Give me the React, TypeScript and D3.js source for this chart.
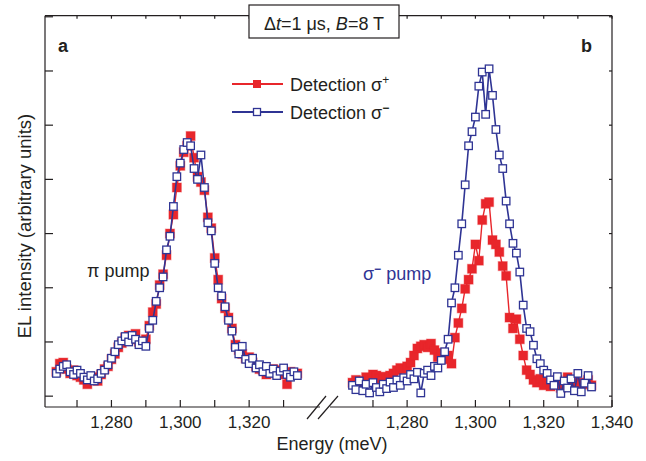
import React, { useEffect, useRef } from 'react';
import * as d3 from 'd3';

// photon energy of every sample (meV), shared by both panels
const energyMeV = [
  1264, 1265, 1266, 1267, 1268, 1269, 1270, 1271, 1272, 1273,
  1274, 1275, 1276, 1277, 1278, 1279, 1280, 1281, 1282, 1283,
  1284, 1285, 1286, 1287, 1288, 1289, 1290, 1291, 1292, 1293,
  1294, 1295, 1296, 1297, 1298, 1299, 1300, 1301, 1302, 1303,
  1304, 1305, 1306, 1307, 1308, 1309, 1310, 1311, 1312, 1313,
  1314, 1315, 1316, 1317, 1318, 1319, 1320, 1321, 1322, 1323,
  1324, 1325, 1326, 1327, 1328, 1329, 1330, 1331, 1332, 1333,
  1334,
];

// panel a: pi pump
const leftSigmaPlus = [
  0.45, 0.60, 0.62, 0.50, 0.42, 0.48, 0.38, 0.35, 0.30, 0.22,
  0.30, 0.35, 0.28, 0.40, 0.50, 0.55, 0.68, 0.78, 0.90, 0.98,
  1.08, 1.12, 1.05, 1.15, 1.00, 0.98, 1.05, 1.30, 1.55, 1.70,
  2.05, 2.25, 2.60, 3.00, 3.35, 3.85, 4.25, 4.50, 4.62, 4.80,
  4.40, 4.05, 3.95, 3.80, 3.30, 3.10, 2.55, 2.15, 1.80, 1.62,
  1.45, 1.25, 0.95, 0.85, 0.78, 0.70, 0.72, 0.62, 0.55, 0.50,
  0.48, 0.40, 0.45, 0.50, 0.42, 0.48, 0.40, 0.22, 0.45, 0.40,
  0.42,
];
const leftSigmaMinus = [
  0.42, 0.50, 0.55, 0.58, 0.45, 0.40, 0.48, 0.42, 0.35, 0.30,
  0.38, 0.28, 0.32, 0.42, 0.48, 0.58, 0.70, 0.82, 0.95, 1.02,
  1.10, 1.00, 1.12, 1.05, 0.95, 1.02, 0.92, 1.25, 1.40, 1.75,
  2.00, 2.20, 2.70, 2.95, 3.50, 4.05, 4.30, 4.55, 4.68, 4.62,
  4.20, 4.00, 4.45, 3.85, 3.20, 3.05, 2.45, 2.00, 1.85, 1.65,
  1.40, 1.20, 0.90, 0.78, 0.92, 0.68, 0.60, 0.70, 0.52, 0.58,
  0.45, 0.55, 0.42, 0.50, 0.38, 0.46, 0.52, 0.40, 0.35, 0.45,
  0.38,
];

// panel b: sigma- pump
const rightSigmaPlus = [
  0.25, 0.30, 0.22, 0.28, 0.35, 0.30, 0.40, 0.38, 0.32, 0.36,
  0.30, 0.38, 0.42, 0.48, 0.52, 0.50, 0.55, 0.62, 0.75, 0.88,
  0.92, 0.95, 0.90, 0.97, 0.85, 0.72, 0.80, 0.68, 0.75, 0.60,
  1.08, 1.35, 1.62, 1.98, 2.15, 2.35, 2.80, 2.50, 3.25, 3.55,
  3.58, 2.88, 2.80, 2.66, 2.40, 2.22, 1.45, 1.25, 1.42, 1.05,
  0.75, 0.48, 0.40, 0.30, 0.25, 0.32, 0.20, 0.28, 0.18, 0.25,
  0.30, 0.15, 0.22, 0.35, 0.18, 0.28, 0.12, 0.25, 0.22, 0.30,
  0.20,
];
const rightSigmaMinus = [
  0.20, 0.12, 0.28, 0.10, 0.22, 0.06, 0.25, 0.16, 0.08, 0.22,
  0.14, 0.26, 0.16, 0.30, 0.20, 0.34, 0.28, 0.40, 0.32, 0.44,
  0.06, 0.42, 0.48, 0.38, 0.55, 0.52, 0.66, 0.82, 1.05, 1.72,
  2.00, 2.60, 3.18, 3.90, 4.62, 4.88, 5.15, 5.72, 5.98, 5.20,
  6.04, 5.55, 4.92, 4.45, 4.20, 3.60, 3.18, 2.82, 2.64, 2.29,
  1.68, 1.25, 1.19, 0.94, 0.69, 0.60, 0.48, 0.42, 0.30, 0.20,
  0.36, 0.05, 0.28, 0.15, 0.32, 0.10, 0.42, 0.08, 0.24, 0.38,
  0.17,
];

const leftTicks = [1270, 1280, 1290, 1300, 1310, 1320, 1330];
const leftTickLabels = [1280, 1300, 1320];
const rightTicks = [1270, 1280, 1290, 1300, 1310, 1320, 1330, 1340];
const rightTickLabels = [1280, 1300, 1320, 1340];
const intensityTicks = [0, 1, 2, 3, 4, 5, 6, 7];

const RED = '#e8262b';
const BLUE = '#2f3494';
const INK = '#231f20';
const FONT = "'Liberation Sans', Arial, Helvetica, sans-serif";

const App = () => {
  const ref = useRef<SVGSVGElement>(null);

  useEffect(() => {
    const svg = d3.select(ref.current);
    svg.selectAll('*').remove(); // start clean

    const top = 15.7;
    const bottom = 407;
    const left = 45;
    const right = 612;

    const xLeft = d3.scaleLinear().domain([1260.7, 1340]).range([left, 318]);
    const xRight = d3.scaleLinear().domain([1258, 1340]).range([332, right]);
    const y = d3.scaleLinear().domain([-0.2, 7.02]).range([bottom, top]);
    const fmt = d3.format(',');

    svg.append('rect').attr('width', 646).attr('height', 461).attr('fill', '#fff');

    const drawPanel = (x: d3.ScaleLinear<number, number>, plus: number[], minus: number[]) => {
      const g = svg.append('g');
      const line = (vals: number[]) =>
        d3.line<number>()
          .x((_, i) => x(energyMeV[i]))
          .y(d => y(d))(vals);

      g.append('path')
        .attr('d', line(plus))
        .attr('fill', 'none')
        .attr('stroke', RED)
        .attr('stroke-width', 1.4);
      g.selectAll('rect.plus')
        .data(plus)
        .enter()
        .append('rect')
        .attr('class', 'plus')
        .attr('x', (_, i) => x(energyMeV[i]) - 4.5)
        .attr('y', d => y(d) - 4.5)
        .attr('width', 9)
        .attr('height', 9)
        .attr('fill', RED)
        .attr('stroke', RED)
        .attr('stroke-opacity', 0.35)
        .attr('stroke-width', 1.2);

      g.append('path')
        .attr('d', line(minus))
        .attr('fill', 'none')
        .attr('stroke', BLUE)
        .attr('stroke-width', 1.6);
      g.selectAll('rect.minus')
        .data(minus)
        .enter()
        .append('rect')
        .attr('class', 'minus')
        .attr('x', (_, i) => x(energyMeV[i]) - 3.75)
        .attr('y', d => y(d) - 3.75)
        .attr('width', 7.5)
        .attr('height', 7.5)
        .attr('fill', '#fff')
        .attr('stroke', BLUE)
        .attr('stroke-width', 1.3);
    };

    drawPanel(xLeft, leftSigmaPlus, leftSigmaMinus);
    drawPanel(xRight, rightSigmaPlus, rightSigmaMinus);

    // frame
    const axes = svg.append('g').attr('stroke', INK).attr('stroke-width', 1.2).attr('fill', 'none');
    axes.append('line').attr('x1', left).attr('x2', left).attr('y1', top).attr('y2', bottom);
    axes.append('line').attr('x1', right).attr('x2', right).attr('y1', top).attr('y2', bottom);
    axes.append('line').attr('x1', left).attr('x2', right).attr('y1', top).attr('y2', top);
    axes.append('line').attr('x1', left).attr('x2', 320).attr('y1', bottom).attr('y2', bottom);
    axes.append('line').attr('x1', 330).attr('x2', right).attr('y1', bottom).attr('y2', bottom);

    // axis break
    axes.append('line').attr('x1', 307).attr('y1', 419).attr('x2', 326).attr('y2', 396);
    axes.append('line').attr('x1', 318).attr('y1', 419).attr('x2', 338).attr('y2', 396);

    // y ticks
    intensityTicks.forEach(t => {
      axes.append('line').attr('x1', left).attr('x2', left + 8).attr('y1', y(t)).attr('y2', y(t));
      axes.append('line').attr('x1', right - 3).attr('x2', right).attr('y1', y(t)).attr('y2', y(t));
    });

    // x ticks
    const ticks = (x: d3.ScaleLinear<number, number>, vals: number[]) => {
      vals.forEach(v => {
        axes.append('line').attr('x1', x(v)).attr('x2', x(v)).attr('y1', bottom).attr('y2', bottom - 7);
        axes.append('line').attr('x1', x(v)).attr('x2', x(v)).attr('y1', top).attr('y2', top + 3);
      });
    };
    ticks(xLeft, leftTicks);
    ticks(xRight, rightTicks);

    const text = svg.append('g').attr('font-family', FONT).attr('fill', INK);

    const labels = (x: d3.ScaleLinear<number, number>, vals: number[]) => {
      vals.forEach(v => {
        text.append('text')
          .attr('x', x(v))
          .attr('y', 428)
          .attr('text-anchor', 'middle')
          .attr('font-size', 17)
          .text(fmt(v));
      });
    };
    labels(xLeft, leftTickLabels);
    labels(xRight, rightTickLabels);

    text.append('text')
      .attr('x', 332)
      .attr('y', 450)
      .attr('text-anchor', 'middle')
      .attr('font-size', 18)
      .text('Energy (meV)');

    text.append('text')
      .attr('transform', 'translate(31,226) rotate(-90)')
      .attr('text-anchor', 'middle')
      .attr('font-size', 18.5)
      .text('EL intensity (arbitrary units)');

    // panel letters
    text.append('text').attr('x', 58).attr('y', 52).attr('font-size', 18).attr('font-weight', 'bold').text('a');
    text.append('text').attr('x', 581).attr('y', 52).attr('font-size', 18).attr('font-weight', 'bold').text('b');

    // title box
    svg.append('rect')
      .attr('x', 249).attr('y', 5).attr('width', 150).attr('height', 33)
      .attr('fill', '#fff').attr('stroke', INK).attr('stroke-width', 1.2);
    const title = svg.append('text')
      .attr('x', 324).attr('y', 30)
      .attr('text-anchor', 'middle')
      .attr('font-family', FONT)
      .attr('font-size', 18)
      .attr('fill', INK);
    title.append('tspan').text('Δ');
    title.append('tspan').attr('font-style', 'italic').text('t');
    title.append('tspan').text('=1 μs, ');
    title.append('tspan').attr('font-style', 'italic').text('B');
    title.append('tspan').text('=8 T');

    // legend
    const legend = [
      { color: RED, filled: true, sign: '+', y: 84 },
      { color: BLUE, filled: false, sign: '−', y: 112 },
    ];
    legend.forEach(l => {
      svg.append('line')
        .attr('x1', 232).attr('x2', 283).attr('y1', l.y).attr('y2', l.y)
        .attr('stroke', l.color).attr('stroke-width', 1.8);
      const s = l.filled ? 8 : 7;
      svg.append('rect')
        .attr('x', 257 - s / 2).attr('y', l.y - s / 2).attr('width', s).attr('height', s)
        .attr('fill', l.filled ? l.color : '#fff')
        .attr('stroke', l.color).attr('stroke-width', l.filled ? 0 : 1.3);
      const t = svg.append('text')
        .attr('x', 290).attr('y', l.y + 6.5)
        .attr('font-family', FONT).attr('font-size', 18).attr('fill', INK);
      t.append('tspan').text('Detection σ');
      t.append('tspan')
        .attr('dy', -7)
        .attr('font-size', 12)
        .attr('font-weight', l.sign === '−' ? 'bold' : 'normal')
        .text(l.sign);
    });

    // pump annotations
    text.append('text').attr('x', 87).attr('y', 277).attr('font-size', 18).text('π pump');
    const sp = svg.append('text')
      .attr('x', 363).attr('y', 280)
      .attr('font-family', FONT).attr('font-size', 18).attr('fill', BLUE);
    sp.append('tspan').text('σ');
    sp.append('tspan').attr('dy', -7).attr('font-size', 12).attr('font-weight', 'bold').text('−');
    sp.append('tspan').attr('dy', 7).text(' pump');
  }, []);

  return (
    <svg
      ref={ref}
      width={646}
      height={461}
      style={{ position: 'absolute', left: 0, top: 0 }}
    />
  );
};

export default App;
